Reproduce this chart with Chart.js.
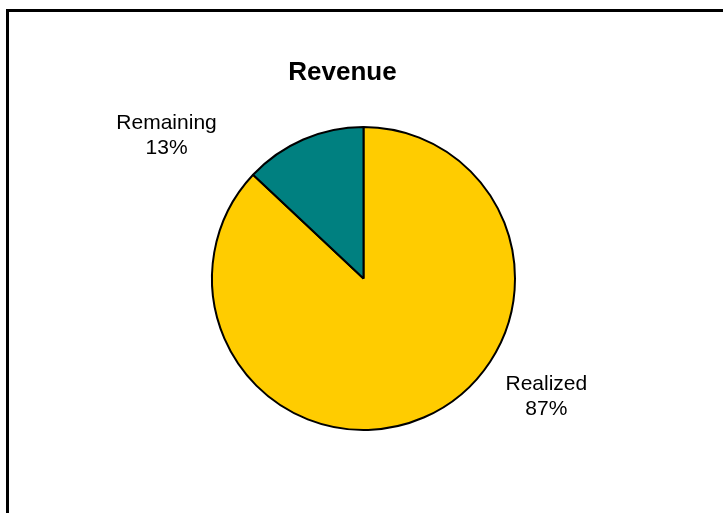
<!DOCTYPE html>
<html>
<head>
<meta charset="utf-8">
<script src="https://cdn.jsdelivr.net/npm/chart.js@4"></script>
<style>
  html, body { margin: 0; padding: 0; background: #fff; overflow: hidden; }
  .frame { position: absolute; left: 6px; top: 9px; width: 900px; height: 700px; border: 3px solid #000; }
  .wrap { position: absolute; left: 0; top: 0; width: 723px; height: 513px; }
</style>
</head>
<body>
<div class="frame"></div>
<div class="wrap"><canvas id="revenueChart" width="723" height="513"></canvas></div>
<script>
// data
const categories = ['Realized', 'Remaining'];
const shares = [87, 13];
const sliceColors = ['#FFCC00', '#008080'];
const chartTitle = 'Revenue';

// label spots, in units of the pie radius from its centre
const labelSpots = [[1.207, 0.733], [-1.30, -0.988]];

const labelPlugin = {
  id: 'pieLabels',
  afterDraw(chart) {
    const ctx = chart.ctx;
    const arcs = chart.getDatasetMeta(0).data;
    ctx.save();
    ctx.fillStyle = '#000';
    ctx.textAlign = 'center';
    ctx.textBaseline = 'alphabetic';

    // title
    ctx.font = 'bold 26px "Liberation Sans", Arial, sans-serif';
    ctx.fillText(chartTitle, 342.5, 79.5);

    // slice labels
    ctx.font = '21px "Liberation Sans", Arial, sans-serif';
    arcs.forEach((arc, i) => {
      const r = arc.outerRadius;
      const x = arc.x + labelSpots[i][0] * r;
      const y = arc.y + labelSpots[i][1] * r;
      ctx.fillText(categories[i], x, y);
      ctx.fillText(shares[i] + '%', x, y + 25.5);
    });
    ctx.restore();
  }
};

const ctx = document.getElementById('revenueChart').getContext('2d');
new Chart(ctx, {
  type: 'pie',
  data: {
    labels: categories,
    datasets: [{
      data: shares,
      backgroundColor: sliceColors,
      borderColor: '#000',
      borderWidth: 2,
      hoverOffset: 0
    }]
  },
  options: {
    responsive: false,
    animation: false,
    layout: { padding: { top: 126, bottom: 82, left: 100, right: 96 } },
    plugins: {
      legend: { display: false },
      title: { display: false },
      tooltip: { enabled: false }
    }
  },
  plugins: [labelPlugin]
});
</script>
</body>
</html>
